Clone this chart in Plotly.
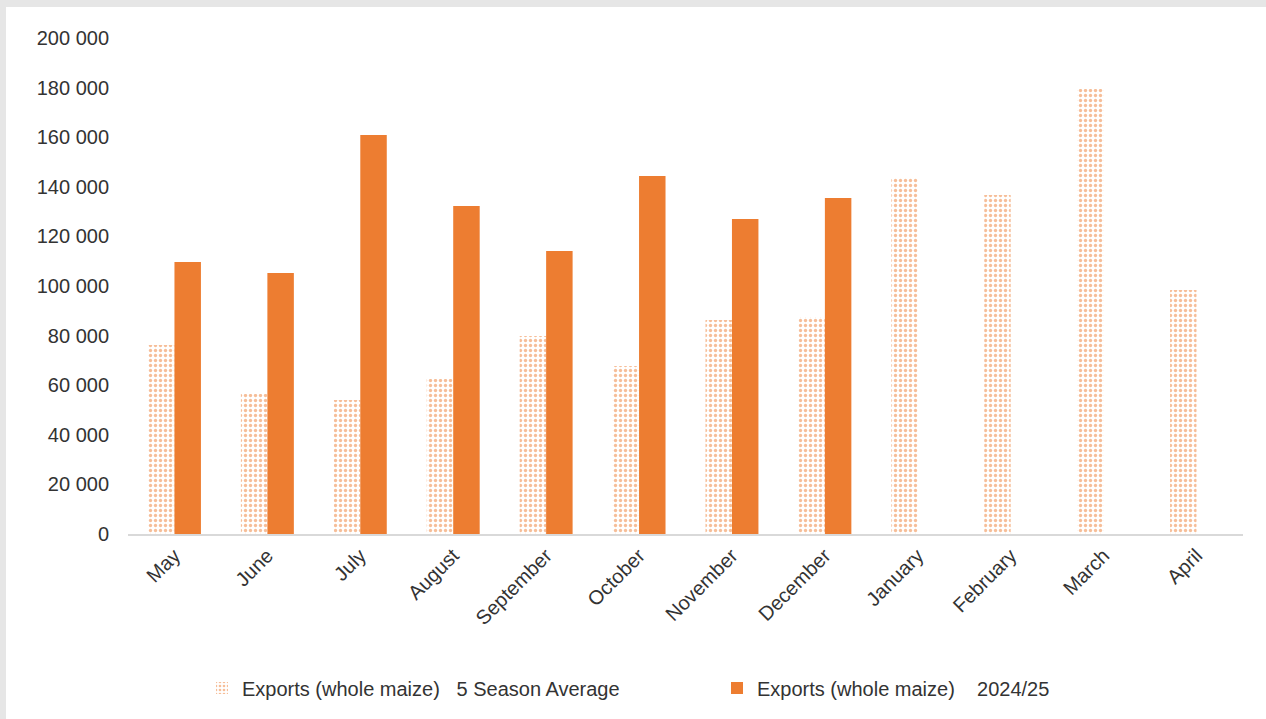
import plotly.graph_objects as go

months = ["May", "June", "July", "August", "September", "October", "November",
          "December", "January", "February", "March", "April"]
avg5 = [76200, 56500, 54000, 62500, 79800, 67700, 86300, 87500, 143500, 136700, 179400, 98400]
season_2425 = [109700, 105200, 160900, 132300, 114100, 144400, 127000, 135500, None, None, None, None]
y_ticks = [0, 20000, 40000, 60000, 80000, 100000, 120000, 140000, 160000, 180000, 200000]
y_tick_text = ["0", "20 000", "40 000", "60 000", "80 000", "100 000", "120 000",
               "140 000", "160 000", "180 000", "200 000"]

ORANGE = "#ed7d31"
FONT = "Liberation Sans, Arial, sans-serif"
NB = "\u00a0"

fig = go.Figure()
fig.add_trace(go.Bar(
    x=months, y=avg5,
    name="Exports (whole maize)" + NB * 3 + "5 Season Average",
    marker=dict(color="white", line=dict(width=0),
                pattern=dict(shape=".", fgcolor=ORANGE, bgcolor="white",
                             size=5, solidity=0.35, fillmode="overlay")),
))
fig.add_trace(go.Bar(
    x=months, y=season_2425,
    name="Exports (whole maize)" + NB * 4 + "2024/25",
    marker=dict(color=ORANGE, line=dict(width=0)),
))

W, H = 1266, 719
L, R, T, B = 128, 23, 38, 185
pw, ph = W - L - R, H - T - B

def px(xp):
    return (xp - L) / pw

def py(yp):
    return (H - B - yp) / ph

shapes = [
    dict(type="rect", xref="paper", yref="paper", x0=px(0), x1=px(W), y0=py(0), y1=py(7),
         fillcolor="#e6e6e6", line=dict(width=0), layer="below"),
    dict(type="rect", xref="paper", yref="paper", x0=px(0), x1=px(6), y0=py(0), y1=py(H),
         fillcolor="#e6e6e6", line=dict(width=0), layer="below"),
]

fig.update_layout(
    width=W, height=H,
    margin=dict(l=L, r=R, t=T, b=B, autoexpand=False),
    paper_bgcolor="white", plot_bgcolor="white",
    barmode="group", bargap=0.43, bargroupgap=0,
    font=dict(family=FONT, size=20, color="#333333"),
    shapes=shapes,
    legend=dict(orientation="h", x=px(202), xanchor="left", y=py(688), yanchor="middle",
                font=dict(family=FONT, size=20, color="#333333"),
                itemwidth=30, entrywidth=470, entrywidthmode="pixels", traceorder="normal"),
    xaxis=dict(showline=True, linecolor="#d9d9d9", linewidth=2, ticks="",
               tickangle=-45, showgrid=False, tickfont=dict(size=20)),
    yaxis=dict(range=[0, 200000], tickvals=y_ticks, ticktext=y_tick_text,
               showgrid=False, zeroline=False, showline=False, ticks="",
               ticklabelstandoff=18, tickfont=dict(size=20)),
)

fig.write_html("out.html")
